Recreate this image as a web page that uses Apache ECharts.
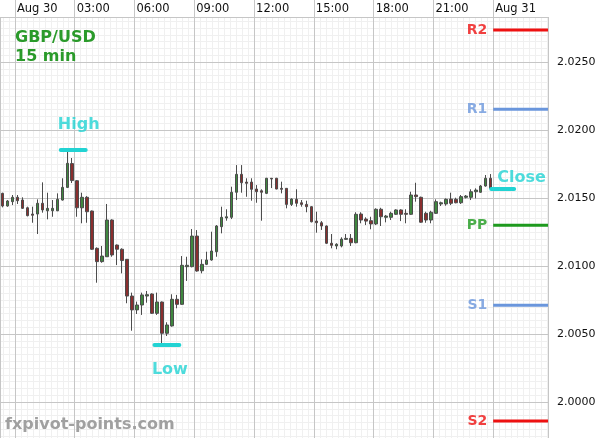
<!DOCTYPE html>
<html><head><meta charset="utf-8">
<script src="https://cdn.jsdelivr.net/npm/echarts@6/dist/echarts.min.js"></script>
<style>html,body{margin:0;padding:0;background:#fff}#c{width:600px;height:438px}</style>
</head><body><div id="c"></div>
<script>
// ---- data (15-min GBP/USD candles, Aug 29 23:15 .. Aug 30 23:45) ----
const openP = [2.01534,2.01441,2.01473,2.01505,2.01485,2.01428,2.01382,2.01382,2.01461,2.01406,
 2.01406,2.01406,2.01485,2.01578,2.01753,2.01627,2.01428,2.01505,2.01404,2.0113,
 2.01032,2.01068,2.01338,2.01154,2.01123,2.01049,2.00779,2.00677,2.00713,2.00779,
 2.00794,2.00652,2.00735,2.00505,2.00559,2.00755,2.00718,2.00995,2.00995,2.0122,
 2.00965,2.01012,2.01044,2.01105,2.01289,2.01353,2.01358,2.01542,2.01674,2.01617,
 2.01617,2.01566,2.01553,2.01534,2.01645,2.01645,2.01571,2.01571,2.01453,2.0149,
 2.01465,2.01453,2.01436,2.0133,2.01318,2.01294,2.01167,2.01147,2.01147,2.01196,
 2.01203,2.01171,2.01382,2.01345,2.01333,2.01309,2.01417,2.01358,2.01358,2.0138,
 2.01412,2.01387,2.0138,2.01522,2.01505,2.01387,2.01338,2.01387,2.01456,2.01456,
 2.01492,2.0149,2.01465,2.01505,2.01505,2.01546,2.01542,2.01588,2.01645];
const closeP = [2.01441,2.01478,2.01505,2.0148,2.01424,2.0137,2.01373,2.01461,2.01412,2.01424,
 2.01424,2.0149,2.01578,2.01755,2.01628,2.01428,2.01505,2.01399,2.01123,2.01032,
 2.01073,2.01338,2.01081,2.01123,2.0104,2.00779,2.00677,2.00713,2.00787,2.00789,
 2.00652,2.00735,2.00505,2.00566,2.00755,2.00718,2.01005,2.01005,2.0122,2.00963,
 2.01012,2.01044,2.0111,2.01294,2.01358,2.01362,2.01542,2.01674,2.01612,2.01608,
 2.01564,2.01546,2.01542,2.01645,2.0164,2.01566,2.01564,2.01453,2.01492,2.01461,
 2.01453,2.01436,2.01325,2.01318,2.01294,2.01167,2.01152,2.0116,2.01198,2.01203,
 2.01171,2.0138,2.01338,2.0133,2.01309,2.01417,2.01362,2.01367,2.01387,2.01412,
 2.0138,2.0138,2.01522,2.0151,2.01322,2.01338,2.01395,2.01473,2.01465,2.0149,
 2.01461,2.01465,2.0151,2.01514,2.01546,2.01558,2.01588,2.01645,2.01571];
const highP = [2.01539,2.01485,2.01522,2.01522,2.01505,2.01436,2.01436,2.0149,2.01615,2.01539,
 2.01485,2.01534,2.01645,2.01845,2.01794,2.01632,2.01539,2.01514,2.01408,2.01137,
 2.01147,2.01456,2.01343,2.01158,2.0113,2.01051,2.00804,2.00738,2.00804,2.00816,
 2.00799,2.00804,2.00739,2.00586,2.00792,2.00787,2.01073,2.01068,2.01272,2.01264,
 2.01049,2.01105,2.01252,2.01301,2.01436,2.01417,2.01583,2.01742,2.01742,2.01645,
 2.01645,2.01595,2.01564,2.01648,2.01647,2.01648,2.0162,2.01573,2.01497,2.01564,
 2.01485,2.0148,2.0144,2.01399,2.0133,2.01298,2.01235,2.01167,2.01211,2.01235,
 2.01235,2.01395,2.01395,2.01358,2.01362,2.01424,2.01428,2.01375,2.01399,2.01417,
 2.01417,2.01417,2.01546,2.01612,2.0151,2.01399,2.01406,2.0149,2.01473,2.01497,
 2.01539,2.01502,2.01522,2.01522,2.01564,2.01571,2.01595,2.01669,2.01676];
const lowP = [2.01431,2.01436,2.01448,2.01456,2.01419,2.01365,2.01318,2.01235,2.01392,2.01343,
 2.01362,2.01403,2.01481,2.01573,2.0161,2.01362,2.01314,2.01318,2.01118,2.00877,
 2.01024,2.01066,2.01068,2.01007,2.00946,2.00726,2.00524,2.00647,2.0064,2.0073,
 2.00647,2.0064,2.00427,2.00485,2.00554,2.00689,2.00714,2.0089,2.0099,2.00958,
 2.00946,2.01007,2.01039,2.01068,2.0124,2.01333,2.01345,2.01485,2.01539,2.01509,
 2.0148,2.01465,2.01333,2.01529,2.01573,2.01564,2.01534,2.01424,2.01441,2.01436,
 2.01436,2.01395,2.01321,2.01245,2.01265,2.01162,2.0113,2.01123,2.01137,2.01191,
 2.01147,2.01167,2.01314,2.01301,2.0127,2.01301,2.01294,2.01321,2.01338,2.01375,
 2.0133,2.01314,2.01375,2.01473,2.01318,2.01318,2.01314,2.01383,2.01441,2.01443,
 2.01448,2.01461,2.01456,2.01497,2.01485,2.01497,2.01538,2.01583,2.01564];
const timeLabels = ['Aug 30','03:00','06:00','09:00','12:00','15:00','18:00','21:00','Aug 31'];
const yTickLabels = ['2.0000','2.0050','2.0100','2.0150','2.0200','2.0250'];
const pivotNames = ['R2','R1','PP','S1','S2'];
const pivotValues = [2.02735, 2.02152, 2.01299, 2.00711, 1.99860];
const markerNames = ['High','Low','Close'];
const markerValues = [2.01853, 2.00419, 2.01566];

// ---- layout / style ----
const FONT = "'DejaVu Sans', sans-serif";
const MAJOR = '#c6c6c6', MINOR = '#f0f0f0';
const CYAN = '#22d3d3';
const pivotColors = ['#ee1111','#6a96dc','#1e9a1e','#6a96dc','#ee1111'];
// slot units: 1 unit = 15 minutes, 0 = Aug 30 00:00
const X_MIN = -3, X_MAX = 107, Y_MIN = 1.99735, Y_MAX = 2.02831;
const pivotSpan = [96, 107];
const markerSpans = [[9.2, 14.2], [28, 33], [95.6, 100.2]];
const markerLabelPos = [
  {u: 12.8, position: 'top', distance: 17},
  {u: 31.1, position: 'bottom', distance: 17},
  {u: 101.7, position: 'top', distance: 3}
];

const NCAT = X_MAX - X_MIN;
const categories = [];
for (let i = 0; i < NCAT; i++) {
  const m = ((23 * 60 + 15) + i * 15) % 1440;
  categories.push(String(Math.floor(m / 60)).padStart(2, '0') + ':' + String(m % 60).padStart(2, '0'));
}
const ohlc = openP.map((o, i) => [o, closeP[i], lowP[i], highP[i]]);

const series = [{
  type: 'candlestick', xAxisIndex: 0, yAxisIndex: 0, data: ohlc, barWidth: 3, z: 3,
  itemStyle: {color: '#3f873f', color0: '#8a2e2e', borderColor: '#4c4c4c', borderColor0: '#4c4c4c', borderWidth: 1},
  emphasis: {disabled: true}, silent: true
}];
pivotValues.forEach((v, i) => {
  series.push({type: 'line', xAxisIndex: 1, yAxisIndex: 0, symbol: 'none', silent: true, z: 4,
    data: [[pivotSpan[0], v], [pivotSpan[1], v]], lineStyle: {color: pivotColors[i], width: 3}});
});
series.push({type: 'scatter', xAxisIndex: 1, yAxisIndex: 0, symbolSize: 0, silent: true, z: 5,
  itemStyle: {color: 'transparent'},
  data: pivotNames.map((n, i) => ({value: [pivotSpan[0], pivotValues[i]],
    label: {show: true, position: 'left', distance: 6, formatter: n, color: pivotColors[i],
      fontWeight: 'bold', fontSize: 14, fontFamily: FONT}}))});
markerValues.forEach((v, i) => {
  series.push({type: 'line', xAxisIndex: 1, yAxisIndex: 0, symbol: 'none', silent: true, z: 6,
    data: [[markerSpans[i][0], v], [markerSpans[i][1], v]], lineStyle: {color: CYAN, width: 4, cap: 'round'}});
});
series.push({type: 'scatter', xAxisIndex: 1, yAxisIndex: 0, symbolSize: 0, silent: true, z: 6,
  itemStyle: {color: 'transparent'},
  data: markerNames.map((n, i) => ({value: [markerLabelPos[i].u, markerValues[i]],
    label: {show: true, position: markerLabelPos[i].position, distance: markerLabelPos[i].distance,
      formatter: n, color: CYAN, fontWeight: 'bold', fontSize: 16, fontFamily: FONT}}))});

const chart = echarts.init(document.getElementById('c'), null, {renderer: 'canvas'});
chart.setOption({
  animation: false,
  backgroundColor: '#fff',
  grid: {left: -2, right: 52, top: 17, bottom: 0, containLabel: false},
  xAxis: [
    {type: 'category', data: categories, boundaryGap: true, show: false},
    {type: 'value', position: 'top', min: X_MIN, max: X_MAX, minInterval: 12, maxInterval: 12, splitNumber: 9, z: 1,
      axisLine: {show: true, lineStyle: {color: MAJOR}},
      axisTick: {show: true, inside: false, length: 17, lineStyle: {color: MAJOR}},
      axisLabel: {show: true, margin: 2, align: 'left', padding: [0, 0, 0, 2], color: '#111', fontSize: 11.5, fontFamily: FONT,
        showMinLabel: false, showMaxLabel: false,
        formatter: v => { const k = Math.round(v / 12); return (Math.abs(v - k * 12) < 1e-6 && k >= 0 && k < timeLabels.length) ? timeLabels[k] : ''; }},
      splitLine: {show: true, lineStyle: {color: MAJOR, width: 1}}},
    {type: 'value', position: 'top', min: X_MIN, max: X_MAX, minInterval: 1.2, maxInterval: 1.2, splitNumber: 92, z: 0,
      axisLine: {show: false}, axisTick: {show: false}, axisLabel: {show: false},
      splitLine: {show: true, lineStyle: {color: MINOR, width: 1}}}
  ],
  yAxis: [
    {type: 'value', position: 'right', min: Y_MIN, max: Y_MAX, minInterval: 0.005, maxInterval: 0.005, splitNumber: 6, z: 1,
      axisLine: {show: true, lineStyle: {color: MAJOR}}, axisTick: {show: false},
      axisLabel: {show: true, margin: 9, color: '#111', fontSize: 11, fontFamily: FONT, showMinLabel: false, showMaxLabel: false,
        formatter: v => { const s = v.toFixed(4); return yTickLabels.includes(s) ? s : ''; }},
      splitLine: {show: true, lineStyle: {color: MAJOR, width: 1}}},
    {type: 'value', position: 'right', min: Y_MIN, max: Y_MAX, minInterval: 0.0005, maxInterval: 0.0005, splitNumber: 62, z: 0,
      axisLine: {show: false}, axisTick: {show: false}, axisLabel: {show: false},
      splitLine: {show: true, lineStyle: {color: MINOR, width: 1}}}
  ],
  graphic: [
    {type: 'text', x: 15, y: 38, silent: true, z: 10, style: {text: 'GBP/USD', font: "bold 16px " + FONT, fill: '#2a9a2a', verticalAlign: 'middle'}},
    {type: 'text', x: 15, y: 57, silent: true, z: 10, style: {text: '15 min', font: "bold 16px " + FONT, fill: '#2a9a2a', verticalAlign: 'middle'}},
    {type: 'text', x: 5, y: 425, silent: true, z: 10, style: {text: 'fxpivot-points.com', font: "bold 16px " + FONT, fill: '#a0a0a0', verticalAlign: 'middle'}}
  ],
  series: series
});
</script></body></html>
